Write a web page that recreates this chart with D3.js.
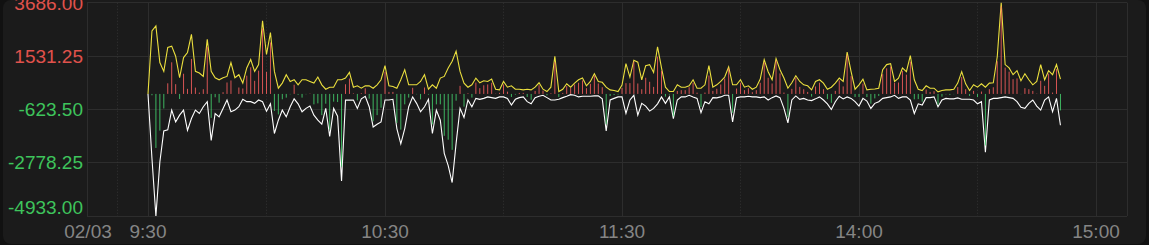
<!DOCTYPE html>
<html><head><meta charset="utf-8">
<script src="https://cdn.jsdelivr.net/npm/d3@7"></script>
<style>
html,body{margin:0;padding:0;background:#111111;overflow:hidden}
svg{display:block}
</style></head><body>
<svg id="c" width="1149" height="245"></svg>
<script>
// minute-by-minute values from 9:30 (index 0 = 9:30, 120 = 11:30/13:00)
const buyVolume = [
0,2545,2750,1266,911,1879,1932,1524,654,1470,
1675,2410,911,845,707,2206,911,654,572,654,
707,1266,654,776,437,1050,1389,911,1185,2954,
1593,2479,911,233,437,776,503,572,368,572,
572,503,437,681,368,190,272,272,572,572,
640,870,272,327,231,327,327,231,368,572,
1144,327,300,231,572,980,368,368,368,503,
776,190,368,231,640,707,1050,1320,1728,911,
437,272,368,640,450,530,503,600,190,163,
503,272,327,190,190,163,190,163,272,450,
190,95,272,1524,95,190,409,272,437,572,
640,327,503,817,503,470,272,163,136,95,
360,1225,681,1362,1280,572,1144,1185,870,1907,
1050,272,95,95,368,272,272,327,572,231,
231,368,1144,272,368,503,681,1090,368,368,
572,272,327,190,272,600,1389,899,572,1430,
980,640,231,450,735,503,368,327,163,503,
572,437,190,272,437,640,503,1687,899,190,
368,600,163,190,200,231,980,1185,1225,503,
640,1050,899,1550,572,190,136,327,231,231,
82,136,163,163,190,437,899,409,136,368,
272,409,272,437,450,1500,3686,1185,1050,776,
940,530,817,572,368,503,1185,572,940,776,
1185,600
];
const sellVolume = [
0,-2600,-4933,-2750,-1500,-1450,-654,-1130,-858,-654,
-1470,-995,-654,-790,-517,-313,-1879,-790,-926,-585,
-245,-722,-654,-517,-218,-313,-313,-381,-245,-313,
-700,-400,-1600,-1062,-654,-926,-517,-200,-400,-722,
-585,-490,-858,-1062,-1225,-585,-1716,-585,-900,-3513,
-250,-250,-250,-585,-200,-100,-517,-1335,-1225,-1130,
-245,-245,-218,-1402,-2015,-1402,-517,-120,-381,-722,
-517,-218,-1600,-654,-1062,-2400,-2900,-3580,-2000,-585,
-950,-245,-517,-180,-218,-180,-120,-150,-180,-120,
-120,-180,-450,-218,-150,-120,-313,-400,-150,-95,
-55,-150,-245,-245,-218,-150,-95,-30,-55,-120,
-95,-95,-95,-80,-80,-200,-1500,-245,-180,-120,
-120,-790,-245,-55,-858,-381,-490,-695,-585,-400,
-120,-381,-120,-1000,-245,-120,-120,-55,-120,-180,
-760,-313,-400,-150,-160,-120,-55,-55,-1130,-150,
-120,-120,-95,-120,-120,-150,-120,-245,-150,-80,
-150,-585,-1170,-245,-80,-218,-180,-245,-270,-200,
-120,-245,-400,-630,-313,-95,-200,-120,-180,-313,
-490,-180,-290,-585,-381,-313,-180,-150,-120,-55,
-180,-120,-120,-245,-790,-400,-450,-150,-150,-120,
-517,-245,-180,-200,-200,-160,-218,-218,-218,-245,
-400,-313,-2357,-245,-180,-180,-150,-120,-150,-180,
-313,-540,-585,-381,-245,-490,-654,-245,-120,-722,
-180,-1266
];
const yTickValues = [3686.00, 1531.25, -623.50, -2778.25, -4933.00];
const xTickLabels = ["9:30", "10:30", "11:30", "14:00", "15:00"];
const xTickMinutes = [0, 60, 120, 180, 240];
const xHalfHourMinutes = [30, 90, 150, 210];
const dateLabel = "02/03";

const netVolume = buyVolume.map((b, i) => b + sellVolume[i]);

const svg = d3.select("#c");
const plotL = 87, plotR = 1127, plotT = 2.7, plotB = 216;

svg.append("rect").attr("x", 3).attr("y", 0).attr("width", 1143).attr("height", 244)
  .attr("rx", 8).attr("fill", "#1b1b1b");

const x = d3.scaleLinear().domain([0, 240]).range([148, 1096]);
const y = d3.scaleLinear().domain([d3.min(yTickValues), d3.max(yTickValues)]).range([plotB, plotT]);

const px = v => Math.floor(v) + 0.5;
const gridColor = "#2d2d2d";
const g = svg.append("g");

// horizontal grid
g.selectAll("line.h").data(yTickValues).join("line")
  .attr("x1", plotL).attr("x2", plotR)
  .attr("y1", d => px(y(d))).attr("y2", d => px(y(d)))
  .attr("stroke", gridColor).attr("stroke-width", 1);
// plot frame verticals
[plotL, plotR].forEach(v => g.append("line").attr("x1", px(v)).attr("x2", px(v))
  .attr("y1", plotT).attr("y2", plotB).attr("stroke", gridColor));
// hour grid
g.selectAll("line.v").data(xTickMinutes).join("line")
  .attr("x1", d => px(x(d))).attr("x2", d => px(x(d)))
  .attr("y1", plotT).attr("y2", plotB).attr("stroke", gridColor);
// half hour dotted
const dotted = [(plotL + x(0)) / 2].concat(xHalfHourMinutes.map(d => x(d)));
g.selectAll("line.d").data(dotted).join("line")
  .attr("x1", d => px(d)).attr("x2", d => px(d))
  .attr("y1", plotT).attr("y2", plotB).attr("stroke", "#333333")
  .attr("stroke-dasharray", "1,2");

// lines
const idx = d3.range(buyVolume.length);
const line = d3.line().x(i => x(i)).curve(d3.curveLinear);
svg.append("path").attr("d", line.y(i => y(buyVolume[i]))(idx))
  .attr("fill", "none").attr("stroke", "#ece03e").attr("stroke-width", 1.1);
svg.append("path").attr("d", line.y(i => y(sellVolume[i]))(idx))
  .attr("fill", "none").attr("stroke", "#ffffff").attr("stroke-width", 1.1);

// net bars
const y0 = y(0);
svg.append("g").selectAll("rect").data(idx.filter(i => netVolume[i] !== 0)).join("rect")
  .attr("x", i => x(i) - 0.5).attr("width", 1)
  .attr("y", i => Math.min(y0, y(netVolume[i])))
  .attr("height", i => Math.abs(y(netVolume[i]) - y0))
  .attr("fill", i => netVolume[i] > 0 ? "#ff6060" : "#46d870")
  .attr("opacity", 0.82);

// y labels
const font = "'Liberation Sans', Arial, sans-serif";
svg.append("g").selectAll("text").data(yTickValues).join("text")
  .attr("x", 83).attr("y", d => Math.min(y(d) + 6.8, 214.3))
  .attr("text-anchor", "end").attr("font-family", font).attr("font-size", 19)
  .attr("fill", d => d > 0 ? "#e0524c" : "#3ec45c")
  .text(d => d.toFixed(2));

// x labels
svg.append("g").selectAll("text").data(xTickMinutes).join("text")
  .attr("x", d => x(d)).attr("y", 237.5).attr("text-anchor", "middle")
  .attr("font-family", font).attr("font-size", 19).attr("fill", "#858585")
  .text((d, i) => xTickLabels[i]);
svg.append("text").attr("x", plotL + 1).attr("y", 237.5).attr("text-anchor", "middle")
  .attr("font-family", font).attr("font-size", 19).attr("fill", "#858585").text(dateLabel);
</script>
</body></html>
